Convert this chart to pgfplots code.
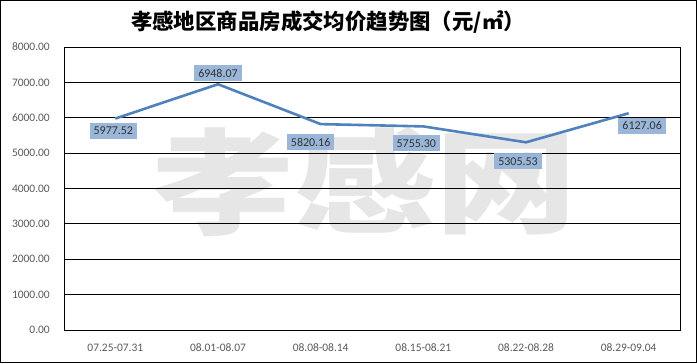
\documentclass[border=0pt]{standalone}
\usepackage{pgfplots}
\pgfplotsset{compat=1.18}
\usepackage{graphicx}
\usepackage{fontspec}
\setmainfont{Carlito}
\newfontfamily\cjk{Noto Sans CJK SC}
\definecolor{linec}{RGB}{79,129,189}
\definecolor{boxc}{RGB}{149,179,215}
\definecolor{tickc}{RGB}{89,89,89}
\definecolor{labc}{RGB}{50,50,50}
\definecolor{wmark}{RGB}{230,230,230}

\pgfplotstableread{
x y dx dy label
0 5977.52 -2 -12.5 5977.52
1 6948.07 0 11 6948.07
2 5820.16 -10 -18 5820.16
3 5755.30 -7 -17 5755.30
4 5305.53 -8 -19 5305.53
5 6127.06 13.5 -12.5 6127.06
}\datatable

\begin{document}
\begin{tikzpicture}[x=1bp,y=1bp]
\path[use as bounding box] (0,0) rectangle (697,363);
\node[text=wmark, inner sep=0pt, font=\cjk\bfseries\fontsize{142}{142}\selectfont] at (365,181) {\scalebox{1}[0.8]{孝感网}};
\begin{axis}[
  at={(64bp,33bp)}, anchor=south west,
  scale only axis, width=616bp, height=283bp,
  xmin=-0.5, xmax=5.5, ymin=0, ymax=8000,
  ytick={0,1000,...,8000},
  xtick={0,...,5},
  xticklabels={07.25-07.31,08.01-08.07,08.08-08.14,08.15-08.21,08.22-08.28,08.29-09.04},
  ymajorgrids,
  major grid style={black, line width=0.9bp},
  axis line style={black, line width=0.9bp},
  tick style={draw=none},
  /pgf/number format/assume math mode=true,
  yticklabel={\pgfmathprintnumber[fixed,fixed zerofill,precision=2,1000 sep={}]{\tick}},
  yticklabel style={inner sep=0pt, anchor=east, xshift=-14bp, text=tickc, font=\fontsize{11.5}{13}\selectfont},
  xticklabel style={inner sep=0pt, anchor=center, yshift=-17.5bp, text=tickc, font=\fontsize{11.5}{13}\selectfont},
  clip=false,
]
\addplot[linec, line width=2.6bp, mark=none,
  nodes near coords,
  point meta=explicit symbolic,
  visualization depends on={\thisrow{dx}\as\dx},
  visualization depends on={\thisrow{dy}\as\dy},
  nodes near coords style={anchor=center, fill=boxc, fill opacity=0.95, text opacity=1, text=labc, inner xsep=4bp, inner ysep=4bp,
     font=\fontsize{12}{14}\selectfont, xshift=\dx bp, yshift=\dy bp},
] table[x=x, y=y, meta=label] {\datatable};
\end{axis}
\node[font=\cjk\bfseries\fontsize{21.5}{25}\selectfont, text=black] at (328,341) {孝感地区商品房成交均价趋势图（元/㎡）};
\draw[black, line width=1bp] (0.5,0.5) rectangle (696.5,362.5);
\end{tikzpicture}
\end{document}
